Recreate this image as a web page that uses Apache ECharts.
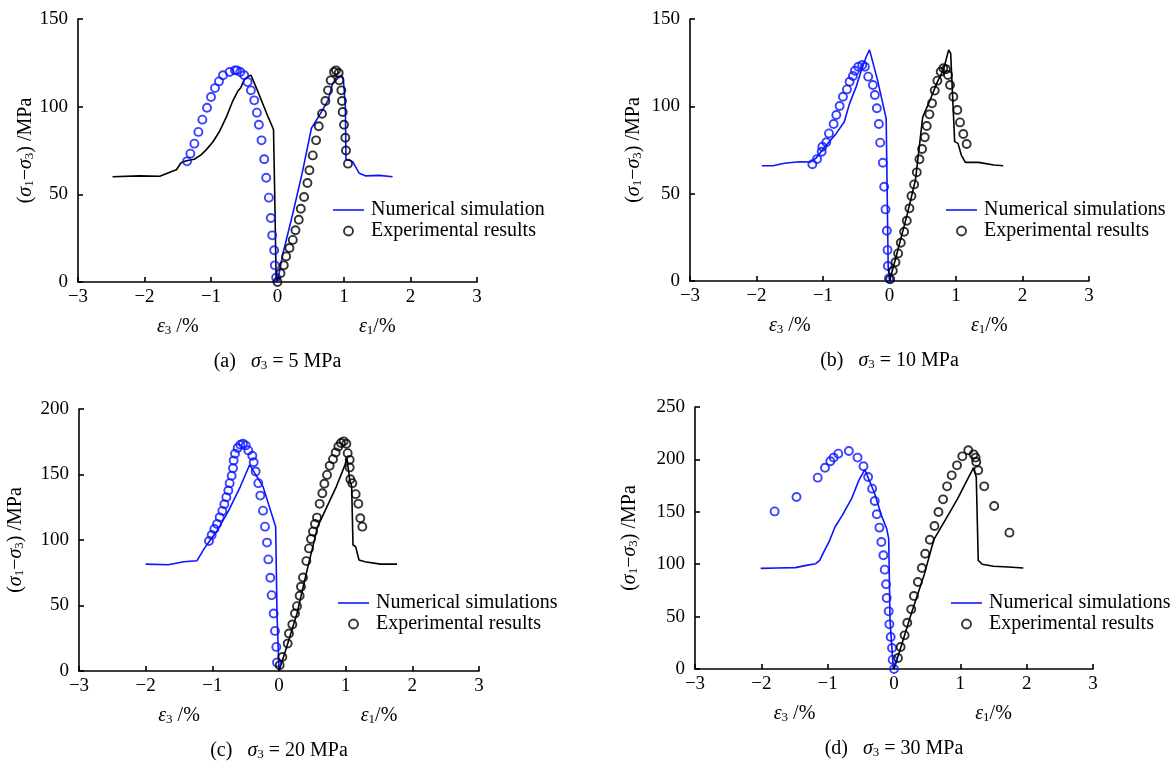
<!DOCTYPE html>
<html>
<head>
<meta charset="utf-8">
<script src="https://cdn.jsdelivr.net/npm/echarts@6/dist/echarts.min.js"></script>
<style>html,body{margin:0;padding:0;background:#fff;}#c{width:1176px;height:763px;}</style>
</head>
<body>
<div id="c"></div>
<script>
// ---------- data (strain %, deviatoric stress MPa) ----------
const xTicks = [-3, -2, -1, 0, 1, 2, 3];
const yMaxes = [150, 150, 200, 250];
const captions = ['(a)', '(b)', '(c)', '(d)'];
const confining = ['5', '10', '20', '30'];
const simNames = ['Numerical simulation', 'Numerical simulations', 'Numerical simulations', 'Numerical simulations'];

// (a) sigma3 = 5 MPa
const aSimE3 = [[-2.48,60],[-2.08,60.5],[-1.77,60.3],[-1.60,62.9],[-1.52,64],[-1.45,68],[-1.37,69.2],[-1.25,70],[-1.15,72.5],[-1.07,75.5],[-0.97,80],[-0.87,86],[-0.77,94],[-0.67,103.5],[-0.60,108.6],[-0.55,111],[-0.50,115.5],[-0.45,117],[-0.40,118],[-0.31,110],[-0.22,101.5],[-0.14,94],[-0.06,87],[-0.04,46],[-0.02,0]];
const aExpE3 = [[-1.36,68.8],[-1.31,73.2],[-1.25,78.9],[-1.19,85.6],[-1.13,92.6],[-1.06,99.4],[-1.00,105.5],[-0.94,110.6],[-0.88,114.4],[-0.82,117.9],[-0.72,119.8],[-0.64,120.7],[-0.61,120.7],[-0.56,119.8],[-0.50,117.9],[-0.45,114],[-0.40,109.3],[-0.35,103.6],[-0.31,96.6],[-0.28,89.7],[-0.24,80.8],[-0.20,70],[-0.17,59.5],[-0.13,48.1],[-0.10,36.5],[-0.08,26.6],[-0.05,18.1],[-0.04,9.5],[-0.02,2.5]];
const aSimE1 = [[0,0],[0.08,16],[0.23,39],[0.38,63.7],[0.51,87.7],[0.63,95],[0.76,103.6],[0.83,113.3],[0.91,116.2],[0.96,118],[0.99,116],[1.02,100],[1.03,69.6],[1.08,69.4],[1.13,68.6],[1.23,62],[1.33,60.5],[1.53,60.8],[1.73,60]];
const aExpE1 = [[0,0],[0.045,5],[0.095,9.5],[0.13,14.6],[0.18,19.4],[0.23,24],[0.27,29.5],[0.32,35.5],[0.35,41.8],[0.40,48.5],[0.45,56.5],[0.48,63.7],[0.53,72.2],[0.58,80.8],[0.62,88.8],[0.67,96],[0.72,103.2],[0.76,109.3],[0.80,115],[0.85,119.8],[0.88,120.7],[0.92,119.2],[0.93,115],[0.96,109.3],[0.97,103.2],[0.98,97],[1.00,89.7],[1.02,82.3],[1.03,75],[1.06,67.5]];

// (b) sigma3 = 10 MPa
const bSimE3 = [[-1.92,66],[-1.75,66],[-1.58,67.4],[-1.36,68.3],[-1.19,68.1],[-1.11,70.2],[-0.97,76.9],[-0.80,84.5],[-0.68,91.2],[-0.60,101.7],[-0.50,111.3],[-0.43,119.8],[-0.35,128.4],[-0.30,132.3],[-0.18,115],[-0.05,93],[-0.04,65.5],[-0.02,8],[0,0]];
const bExpE3 = [[-1.16,66.8],[-1.09,69.8],[-1.02,74],[-1.01,76.9],[-0.95,79.4],[-0.91,84.5],[-0.84,89.9],[-0.80,95],[-0.75,100.2],[-0.70,105.5],[-0.64,109.7],[-0.60,114.1],[-0.55,117.4],[-0.52,120.4],[-0.47,122.7],[-0.41,123.7],[-0.37,122.7],[-0.32,117],[-0.25,112.2],[-0.22,106.5],[-0.19,98.9],[-0.16,89.9],[-0.14,79.2],[-0.10,67.7],[-0.08,54],[-0.06,41],[-0.04,28.8],[-0.03,17.7],[-0.025,8.6],[-0.01,1.5]];
const bSimE1 = [[0,0],[0.10,14],[0.27,38.7],[0.39,57.8],[0.50,94],[0.61,103.6],[0.72,114],[0.81,120.8],[0.89,132.3],[0.92,130.3],[0.98,79.8],[1.03,78.8],[1.08,72.1],[1.14,67.9],[1.34,67.9],[1.57,66.4],[1.71,66]];
const bExpE1 = [[0.01,1],[0.05,5.9],[0.09,10.7],[0.13,15.8],[0.17,21.9],[0.22,28.2],[0.26,34.5],[0.30,41.6],[0.33,48.7],[0.37,55.3],[0.41,62.2],[0.45,69.7],[0.49,75.6],[0.53,82.3],[0.56,88.7],[0.60,95.4],[0.64,101.7],[0.68,109],[0.72,114.7],[0.77,119.8],[0.81,121.8],[0.85,121.2],[0.88,117.9],[0.91,112.2],[0.96,105.5],[1.02,97.9],[1.06,90.8],[1.11,84.2],[1.16,78.4]];

// (c) sigma3 = 20 MPa
const cSimE3 = [[-2.0,81.6],[-1.66,81.1],[-1.43,83.4],[-1.23,84.2],[-1.12,93.6],[-1.03,100],[-0.92,107.7],[-0.75,123],[-0.58,140.8],[-0.44,157.4],[-0.41,158.7],[-0.24,140.8],[-0.13,123],[-0.05,110.2],[-0.03,43.9],[0,0]];
const cExpE3 = [[-1.05,99.2],[-1.01,103.8],[-0.97,108.4],[-0.93,112.2],[-0.89,117.3],[-0.85,122.2],[-0.82,127.3],[-0.79,132.7],[-0.76,137.8],[-0.74,143.4],[-0.71,149],[-0.69,154.8],[-0.68,160.7],[-0.66,165.8],[-0.62,170.2],[-0.58,172.7],[-0.54,173.5],[-0.50,172.2],[-0.46,168.4],[-0.40,164.3],[-0.38,159.4],[-0.35,152.3],[-0.31,143.4],[-0.28,133.9],[-0.24,122.4],[-0.21,110.2],[-0.18,98],[-0.16,85.2],[-0.13,71.2],[-0.11,57.9],[-0.08,43.9],[-0.06,30.6],[-0.04,18.4],[-0.03,6.4]];
const cSimE1 = [[0,0],[0.10,15.8],[0.27,43.9],[0.41,74.5],[0.58,110.2],[0.72,125.5],[0.86,140.8],[0.98,156],[1.02,162.5],[1.06,146],[1.09,140.8],[1.11,96.2],[1.15,94.9],[1.20,84.7],[1.29,83.4],[1.52,81.6],[1.77,81.6]];
const cExpE1 = [[0.01,4.3],[0.05,10.7],[0.13,20.9],[0.15,28.6],[0.20,35.5],[0.24,43.9],[0.27,49.5],[0.31,57.4],[0.33,64.3],[0.36,71.4],[0.41,83.9],[0.45,93.6],[0.48,100.8],[0.51,106.4],[0.54,112.2],[0.57,117.1],[0.61,127.6],[0.65,135.7],[0.68,142.9],[0.72,149.7],[0.76,156.6],[0.81,161.7],[0.85,166.8],[0.89,171.4],[0.93,174],[0.97,175.3],[1.01,173.5],[1.03,166.3],[1.06,161.2],[1.06,155.4],[1.07,146.4],[1.10,143.4],[1.15,135],[1.19,127.6],[1.22,116.6],[1.25,110.2]];

// (d) sigma3 = 30 MPa
const dSimE3 = [[-2.01,96],[-1.77,96.4],[-1.49,96.7],[-1.32,98.9],[-1.18,100.5],[-1.12,103.7],[-1.06,111.6],[-0.98,121.2],[-0.89,135.5],[-0.78,146.6],[-0.64,162.5],[-0.53,180],[-0.44,190.2],[-0.42,191.2],[-0.30,168.9],[-0.19,146.6],[-0.11,133.9],[-0.08,124.4],[-0.06,46.4],[-0.01,0]];
const dExpE3 = [[-1.80,150.4],[-1.47,164.1],[-1.15,182.6],[-1.04,192.1],[-0.96,198.2],[-0.91,201.7],[-0.84,205.5],[-0.68,208],[-0.55,201.7],[-0.46,193.4],[-0.39,183.2],[-0.33,172.1],[-0.29,160.3],[-0.26,147.6],[-0.22,134.9],[-0.19,121.2],[-0.16,108.5],[-0.14,94.8],[-0.12,80.8],[-0.11,67.7],[-0.08,55],[-0.07,42.6],[-0.05,30.5],[-0.03,20],[-0.02,8.9],[0,0]];
const dSimE1 = [[0,0],[0.12,24.2],[0.26,52.8],[0.46,91],[0.60,123.4],[0.77,141.9],[0.96,162.5],[1.10,180],[1.20,192.1],[1.24,183.2],[1.27,103.7],[1.33,99.9],[1.50,98],[1.72,97.3],[1.95,96.4]];
const dExpE1 = [[0.06,10.5],[0.10,21],[0.16,32.1],[0.20,44.2],[0.26,56.9],[0.30,69.7],[0.36,83],[0.42,96.4],[0.47,110],[0.54,123.4],[0.61,136.5],[0.67,149.8],[0.74,161.9],[0.80,174.3],[0.87,184.8],[0.95,194.3],[1.03,202.9],[1.12,208.7],[1.20,204.8],[1.23,201.7],[1.24,197.5],[1.27,189.6],[1.36,174.3],[1.51,155.5],[1.74,130.1]];

const panels = [
  {simL: aSimE3, expL: aExpE3, simR: aSimE1, expR: aExpE1},
  {simL: bSimE3, expL: bExpE3, simR: bSimE1, expR: bExpE1},
  {simL: cSimE3, expL: cExpE3, simR: cSimE1, expR: cExpE1},
  {simL: dSimE3, expL: dExpE3, simR: dSimE1, expR: dExpE1}
];

// ---------- layout / style ----------
const FONT = '"Liberation Serif","Times New Roman",serif';
const BLUE = '#0a14ff';
const BLACK = '#000000';
const grids = [
  {left: 78, top: 19, width: 399, height: 263},
  {left: 690, top: 19, width: 399, height: 262},
  {left: 79, top: 409, width: 400, height: 262},
  {left: 695, top: 407, width: 398, height: 262}
];
const nameGaps = [40, 46, 53, 55];
// colours: [left line, left circles, right line, right circles]
const colorSets = [
  [BLACK, BLUE, BLUE, BLACK],
  [BLUE, BLUE, BLACK, BLACK],
  [BLUE, BLUE, BLACK, BLACK],
  [BLUE, BLUE, BLACK, BLACK]
];
const legendPos = [
  {left: 333, top: 200},
  {left: 946, top: 200},
  {left: 338, top: 593},
  {left: 951, top: 593}
];

const rich = {
  i: {fontFamily: FONT, fontStyle: 'italic', fontSize: 20, color: '#000'},
  sub: {fontFamily: FONT, fontSize: 13, color: '#000', verticalAlign: 'bottom', lineHeight: 13}
};
const minusFmt = v => (v < 0 ? '\u2212' + Math.abs(v) : String(v));

const option = {
  animation: false,
  backgroundColor: '#fff',
  grid: [], xAxis: [], yAxis: [], series: [], legend: [], graphic: []
};

grids.forEach((g, k) => {
  option.grid.push(Object.assign({containLabel: false}, g));
  option.xAxis.push({
    type: 'value', gridIndex: k, min: xTicks[0], max: xTicks[xTicks.length - 1], interval: 1,
    axisLine: {onZero: false, lineStyle: {color: '#000', width: 1.6}},
    axisTick: {inside: true, length: 5, lineStyle: {color: '#000', width: 1.6}},
    axisLabel: {formatter: minusFmt, fontFamily: FONT, fontSize: 19, color: '#000', margin: 6},
    splitLine: {show: false}
  });
  option.yAxis.push({
    type: 'value', gridIndex: k, min: 0, max: yMaxes[k], interval: 50,
    name: '({i|\u03c3}{sub|1}\u2212{i|\u03c3}{sub|3}) /MPa',
    nameLocation: 'middle', nameGap: nameGaps[k],
    nameTextStyle: {fontFamily: FONT, fontSize: 20, color: '#000', rich: rich},
    axisLine: {onZero: false, lineStyle: {color: '#000', width: 1.6}},
    axisTick: {inside: true, length: 5, lineStyle: {color: '#000', width: 1.6}},
    axisLabel: {fontFamily: FONT, fontSize: 19, color: '#000', margin: 10},
    splitLine: {show: false}
  });
  const p = panels[k], cs = colorSets[k];
  const lineS = (data, color) => ({
    type: 'line', name: simNames[k], xAxisIndex: k, yAxisIndex: k, data: data,
    symbol: 'none', smooth: false, lineStyle: {color: color, width: 1.6}, itemStyle: {color: color}, z: 2
  });
  const scatS = (data, color) => ({
    type: 'scatter', name: 'Experimental results', xAxisIndex: k, yAxisIndex: k, data: data,
    symbol: 'circle', symbolSize: 8,
    itemStyle: {color: 'rgba(255,255,255,0)', borderColor: color, borderWidth: 1.9}, z: 3
  });
  option.series.push(lineS(p.simL, cs[0]), scatS(p.expL, cs[1]), lineS(p.simR, cs[2]), scatS(p.expR, cs[3]));

  option.legend.push({
    orient: 'vertical', left: legendPos[k].left, top: legendPos[k].top, padding: 0,
    itemWidth: 31, itemHeight: 9, itemGap: 1, selectedMode: false,
    textStyle: {fontFamily: FONT, fontSize: 20, color: '#000', padding: [0, 0, 0, 2]},
    data: [
      {name: simNames[k], icon: 'path://M0,0 L40,0 L40,2 L0,2 Z', itemStyle: {color: BLUE, borderWidth: 0}},
      {name: 'Experimental results', icon: 'circle',
       itemStyle: {color: 'rgba(255,255,255,0)', borderColor: BLACK, borderWidth: 1.9}}
    ]
  });

  const bottom = g.top + g.height;
  const xpos = v => g.left + g.width * (v - xTicks[0]) / (xTicks[xTicks.length - 1] - xTicks[0]);
  const txt = (x, y, text) => ({
    type: 'text', x: x, y: y, silent: true,
    style: {text: text, fontFamily: FONT, fontSize: 20, fill: '#000', align: 'center', verticalAlign: 'middle', rich: rich}
  });
  option.graphic.push(txt(xpos(-1.5), bottom + 45, '{i|\u03b5}{sub|3} /%'));
  option.graphic.push(txt(xpos(1.5), bottom + 45, '{i|\u03b5}{sub|1}/%'));
  option.graphic.push(txt(xpos(0), bottom + 80, captions[k] + '   {i|\u03c3}{sub|3} = ' + confining[k] + ' MPa'));
});

const chart = echarts.init(document.getElementById('c'), null, {renderer: 'canvas'});
chart.setOption(option);
</script>
</body>
</html>
